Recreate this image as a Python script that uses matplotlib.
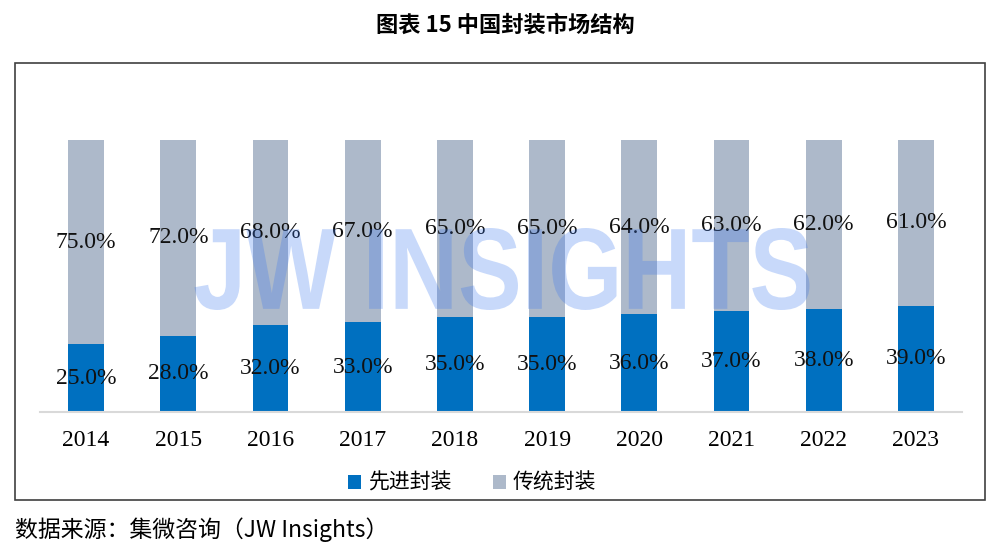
import matplotlib
matplotlib.use("Agg")
import matplotlib.pyplot as plt
from matplotlib.textpath import TextPath
from matplotlib.patches import PathPatch, Rectangle
from matplotlib.font_manager import FontProperties
from matplotlib.transforms import Affine2D
import numpy as np

years = ["2014", "2015", "2016", "2017", "2018", "2019", "2020", "2021", "2022", "2023"]
advanced = [25.0, 28.0, 32.0, 33.0, 35.0, 35.0, 36.0, 37.0, 38.0, 39.0]
traditional = [75.0, 72.0, 68.0, 67.0, 65.0, 65.0, 64.0, 63.0, 62.0, 61.0]
series_names = ["先进封装", "传统封装"]
title = "图表 15 中国封装市场结构"
source = "数据来源：集微咨询（JW Insights）"

BLUE = "#0070C0"
GRAY = "#ADB9CA"
SERIF = ["Liberation Serif", "Noto Sans CJK SC"]
CJK = ["Noto Sans CJK SC", "Liberation Serif"]

W, H = 1000, 557
fig = plt.figure(figsize=(W / 100, H / 100), dpi=100)

# frame around chart
fig.patches.append(Rectangle((15 / W, 1 - 500 / H), 970 / W, 437 / H,
                             transform=fig.transFigure, fill=False,
                             edgecolor="#404040", linewidth=1.2))

# watermark via scaled text path
tp = TextPath((0, 0), "JW INSIGHTS", size=100,
              prop=FontProperties(family="Liberation Sans", weight="bold"))
bb = tp.get_extents()
sx = 615 / bb.width
sy = 82 / bb.height
cx, cy = 502, H - 269
tr = Affine2D().translate(-bb.x0 - bb.width / 2, -bb.y0 - bb.height / 2).scale(sx, sy).translate(cx, cy)
wm = PathPatch(tr.transform_path(tp), facecolor="#3a78f0", edgecolor="none",
               alpha=0.28, transform=None, zorder=3)

ax = fig.add_axes([40 / W, 1 - 412 / H, 922 / W, 272 / H])
x = np.arange(len(years))
bw = 0.39
ax.bar(x, advanced, bw, color=BLUE, label=series_names[0], zorder=2)
ax.bar(x, traditional, bw, bottom=advanced, color=GRAY, label=series_names[1], zorder=2)
fig.patches.append(wm)

for i in range(len(years)):
    ax.text(x[i], advanced[i] / 2, f"{advanced[i]:.1f}%", ha="center", va="center",
            fontsize=17, family=SERIF, color="#111111", zorder=5)
    ax.text(x[i], advanced[i] + traditional[i] / 2, f"{traditional[i]:.1f}%", ha="center",
            va="center", fontsize=17, family=SERIF, color="#111111", zorder=5)

ax.set_xlim(-0.5, len(years) - 0.5)
ax.set_ylim(0, 100)
ax.set_xticks(x)
ax.set_xticklabels(years, fontsize=17, family=SERIF)
ax.tick_params(axis="x", length=0, pad=13)
ax.set_yticks([])
for s in ["top", "right", "left"]:
    ax.spines[s].set_visible(False)
ax.spines["bottom"].set_color("#D9D9D9")
ax.spines["bottom"].set_linewidth(1.5)
ax.patch.set_alpha(0)

leg = fig.legend(loc="center", bbox_to_anchor=(472 / W, 1 - 483 / H), ncol=2, frameon=False,
                 prop=FontProperties(family=CJK, size=15), handlelength=0.65,
                 handleheight=0.65, handletextpad=0.3, columnspacing=2.0)

fig.text(505 / W, 1 - 25 / H, title, ha="center", va="center", fontsize=16,
         fontweight="bold", family=CJK)
fig.text(15 / W, 1 - 530 / H, source, ha="left", va="center", fontsize=16.5, family=CJK)

fig.savefig("out.png", dpi=100)
